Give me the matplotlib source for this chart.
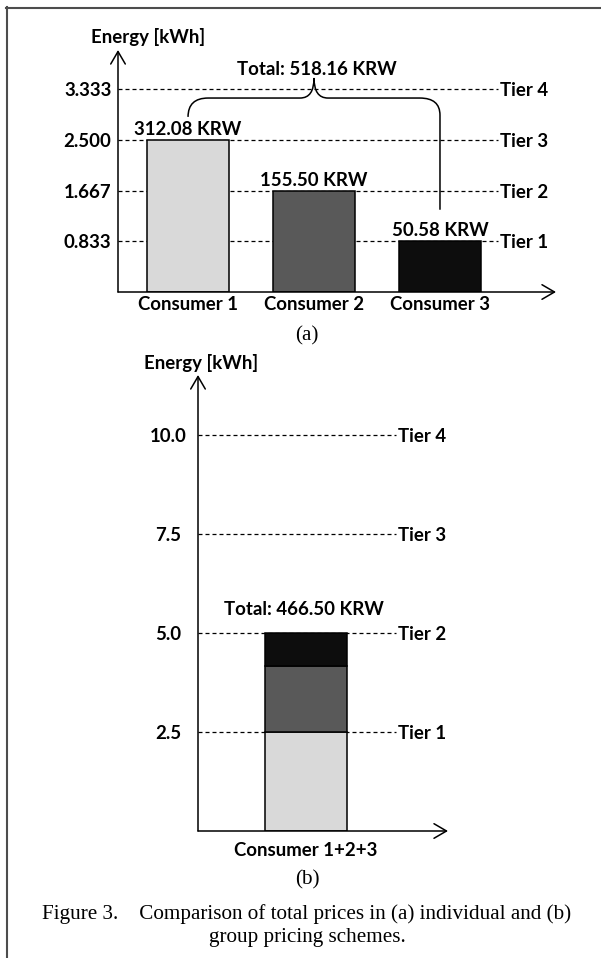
import numpy as np
import matplotlib
matplotlib.use('Agg')
import matplotlib.pyplot as plt
from matplotlib.path import Path
from matplotlib.patches import PathPatch
from matplotlib.lines import Line2D

# data
consumers = ['Consumer 1', 'Consumer 2', 'Consumer 3']
energy = [2.5, 1.667, 0.833]          # kWh per consumer
prices = ['312.08 KRW', '155.50 KRW', '50.58 KRW']
tiers_a = [0.833, 1.667, 2.5, 3.333]
tier_ticks_a = ['0.833', '1.667', '2.500', '3.333']
tiers_b = [2.5, 5.0, 7.5, 10.0]
tier_ticks_b = ['2.5', '5.0', '7.5', '10.0']
tier_names = ['Tier 1', 'Tier 2', 'Tier 3', 'Tier 4']
total_a = 'Total: 518.16 KRW'
total_b = 'Total: 466.50 KRW'
group_label = 'Consumer 1+2+3'
bar_colors = ['#d9d9d9', '#595959', '#0d0d0d']

W, H = 601, 958
fig = plt.figure(figsize=(W / 100, H / 100), dpi=100)
SANS = ['Lato', 'DejaVu Sans']
SERIF = ['Liberation Serif', 'DejaVu Serif']
FS = 13.4
CAP = 15.2

def px_axes(left, top, right, bottom):
    return fig.add_axes([left / W, 1 - bottom / H, (right - left) / W, (bottom - top) / H])

def fig_text(px, py, s, **kw):
    fig.text(px / W, 1 - py / H, s, ha='center', va='center_baseline', **kw)

def axis_arrows(ax):
    arrow = dict(arrowstyle='->, head_length=0.6, head_width=0.35', lw=1.1,
                 color='black', shrinkA=0, shrinkB=0, mutation_scale=15)
    ax.annotate('', xy=(1, 0), xytext=(0, 0), xycoords='axes fraction', arrowprops=arrow)
    ax.annotate('', xy=(0, 1), xytext=(0, 0), xycoords='axes fraction', arrowprops=arrow)
    for s in ax.spines.values():
        s.set_visible(False)

dash = (0, (3.2, 2.4))

# ---------------- (a) individual pricing
x = np.arange(1, len(consumers) + 1)
ax1 = px_axes(118, 50, 556, 292)
ax1.set_xlim(0.444, 3.921)
ax1.set_ylim(0, 3.98)
axis_arrows(ax1)

ax1.hlines(tiers_a, ax1.get_xlim()[0], 3.46, colors='black', linestyles=dash, lw=0.9, zorder=1)
for t, name in zip(tiers_a, tier_names):
    ax1.text(3.475, t, name, ha='left', va='center_baseline', fontsize=FS,
             fontweight='bold', family=SANS, clip_on=False)

ax1.bar(x, energy, width=0.65, color=bar_colors, edgecolor='black', lw=1.1, zorder=2)
for xi, e, p in zip(x, energy, prices):
    ax1.annotate(p, (xi, e), xytext=(0, 8.6), textcoords='offset points', ha='center',
                 va='center_baseline', fontsize=FS, fontweight='bold', family=SANS)

ax1.set_xticks(x)
ax1.set_xticklabels(consumers, fontsize=FS, fontweight='bold', family=SANS)
ax1.set_yticks(tiers_a)
ax1.set_yticklabels(tier_ticks_a, fontsize=FS, fontweight='bold', family=SANS)
ax1.tick_params(axis='both', length=0)
ax1.tick_params(axis='y', pad=4.7)
ax1.tick_params(axis='x', pad=3)

# brace over the three consumers
xl, xm, xr = x[0], (x[0] + x[-1]) / 2, x[-1]
yh, ypk = 3.19, 3.52
verts = [(xl, energy[0] + 0.38), (xl, yh), (xl + 0.16, yh),
         (xm - 0.11, yh), (xm, yh), (xm, ypk), (xm, yh), (xm + 0.11, yh),
         (xr - 0.16, yh), (xr, yh), (xr, 2.91), (xr, energy[-1] + 0.52)]
codes = [Path.MOVETO, Path.CURVE3, Path.CURVE3, Path.LINETO, Path.CURVE3, Path.CURVE3,
         Path.CURVE3, Path.CURVE3, Path.LINETO, Path.CURVE3, Path.CURVE3, Path.LINETO]
ax1.add_patch(PathPatch(Path(verts, codes), fill=False, lw=1.1, color='black', zorder=3))
ax1.text(xm + 0.02, 3.68, total_a, ha='center', va='center_baseline', fontsize=FS,
         fontweight='bold', family=SANS)

# ---------------- (b) group pricing
ax2 = px_axes(198, 375, 448, 831)
ax2.set_xlim(0.143, 2.127)
ax2.set_ylim(0, 11.52)
axis_arrows(ax2)

ax2.hlines(tiers_b, ax2.get_xlim()[0], 1.714, colors='black', linestyles=dash, lw=0.9, zorder=1)
for t, name in zip(tiers_b, tier_names):
    ax2.text(1.73, t, name, ha='left', va='center_baseline', fontsize=FS,
             fontweight='bold', family=SANS, clip_on=False)

bottoms = np.concatenate([[0], np.cumsum(energy)[:-1]])
ax2.bar([1] * len(energy), energy, bottom=bottoms, width=0.65, color=bar_colors,
        edgecolor='black', lw=1.1, zorder=2)
ax2.annotate(total_b, (1, sum(energy)), xytext=(-1.5, 18), textcoords='offset points',
             ha='center', va='center_baseline', fontsize=FS, fontweight='bold', family=SANS)

ax2.set_xticks([1])
ax2.set_xticklabels([group_label], fontsize=FS, fontweight='bold', family=SANS)
ax2.set_yticks(tiers_b)
ax2.set_yticklabels(tier_ticks_b, fontsize=FS, fontweight='bold', family=SANS, ha='center')
ax2.tick_params(axis='both', length=0)
ax2.tick_params(axis='y', pad=21.6)
ax2.tick_params(axis='x', pad=8)

# axis titles, sub-labels and caption
fig_text(148, 35, 'Energy [kWh]', fontsize=FS, fontweight='bold', family=SANS)
fig_text(201, 362, 'Energy [kWh]', fontsize=FS, fontweight='bold', family=SANS)
fig_text(307, 333, '(a)', fontsize=CAP, family=SERIF)
fig_text(307, 877, '(b)', fontsize=CAP, family=SERIF)
fig_text(307, 912, 'Figure 3.    Comparison of total prices in (a) individual and (b)',
         fontsize=CAP, family=SERIF)
fig_text(307, 935, 'group pricing schemes.', fontsize=CAP, family=SERIF)

# frame around the figure (only left and top edges fall inside the picture)
fig.add_artist(Line2D([6.5 / W, 6.5 / W], [1 - 7 / H, 0], color='#4d4d4d', lw=1.5))
fig.add_artist(Line2D([6 / W, 1], [1 - 7.5 / H, 1 - 7.5 / H], color='#4d4d4d', lw=1.5))

fig.savefig('out.png', dpi=100)
